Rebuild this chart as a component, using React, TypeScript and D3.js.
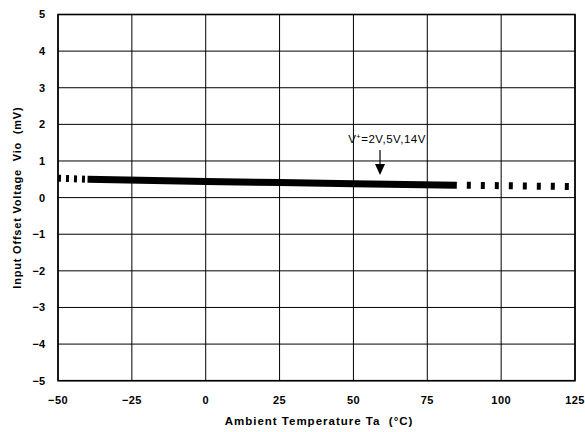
import React from "react";
import * as d3 from "d3";

const xTicks = [-50, -25, 0, 25, 50, 75, 100, 125];
const yTicks = [5, 4, 3, 2, 1, 0, -1, -2, -3, -4, -5];
// Measured line (solid) and extrapolated (dotted) portions
const solidTemp = [-40, 0, 25, 50, 85];
const solidVio = [0.5, 0.44, 0.41, 0.38, 0.34];
const dotLeftTemp = [-50, -40];
const dotLeftVio = [0.53, 0.5];
const dotRightTemp = [85, 125];
const dotRightVio = [0.34, 0.3];
const arrowTemp = 59;
const labelText = "V";
const labelRest = "=2V,5V,14V";

const W = 585;
const H = 432;
const M = { left: 58, right: 10, top: 14.5, bottom: 51.3 };

export default function App() {
  const x = d3.scaleLinear().domain([-50, 125]).range([M.left, W - M.right]);
  const y = d3.scaleLinear().domain([-5, 5]).range([H - M.bottom, M.top]);
  const line = d3
    .line<[number, number]>()
    .x((d) => x(d[0]))
    .y((d) => y(d[1]));
  const zip = (a: number[], b: number[]) => a.map((v, i) => [v, b[i]] as [number, number]);
  const font = "'Liberation Sans', Arial, sans-serif";
  const ax = x(arrowTemp);
  const ay = y(0.37) - 9;
  return (
    <svg
      width={W}
      height={H}
      style={{ position: "absolute", left: 0, top: 0, background: "#fff" }}
      fontFamily={font}
    >
      <rect width={W} height={H} fill="#fff" />
      {xTicks.map((t) => (
        <line key={"gx" + t} x1={x(t)} x2={x(t)} y1={y(5)} y2={y(-5)} stroke="#000" strokeWidth={1} />
      ))}
      {yTicks.map((t) => (
        <line key={"gy" + t} x1={x(-50)} x2={x(125)} y1={y(t)} y2={y(t)} stroke="#000" strokeWidth={1} />
      ))}
      <rect
        x={x(-50)}
        y={y(5)}
        width={x(125) - x(-50)}
        height={y(-5) - y(5)}
        fill="none"
        stroke="#000"
        strokeWidth={1.6}
      />
      {yTicks.map((t) => (
        <text
          key={"ty" + t}
          x={45}
          y={y(t)}
          dy="0.36em"
          textAnchor="end"
          fontSize={11}
          fontWeight="bold"
        >
          {t < 0 ? "\u2212" + Math.abs(t) : String(t)}
        </text>
      ))}
      {xTicks.map((t) => (
        <text
          key={"tx" + t}
          x={x(t)}
          y={404}
          textAnchor="middle"
          fontSize={11}
          fontWeight="bold"
          letterSpacing={0.4}
        >
          {t < 0 ? "\u2212" + Math.abs(t) : String(t)}
        </text>
      ))}
      <text x={319} y={425} textAnchor="middle" fontSize={11.5} fontWeight="bold" letterSpacing={1}>
        Ambient Temperature Ta{"\u00a0\u00a0"}(°C)
      </text>
      <text
        transform={`translate(21,${y(0)}) rotate(-90)`}
        textAnchor="middle"
        fontSize={11}
        fontWeight="bold"
        letterSpacing={0.8}
      >
        Input Offset Voltage{"\u00a0\u00a0"}Vio{"\u00a0\u00a0"}(mV)
      </text>
      <path d={line(zip(dotLeftTemp, dotLeftVio)) || ""} fill="none" stroke="#000" strokeWidth={7} strokeDasharray="3 5" />
      <path d={line(zip(solidTemp, solidVio)) || ""} fill="none" stroke="#000" strokeWidth={7} />
      <path
        d={line(zip(dotRightTemp, dotRightVio)) || ""}
        fill="none"
        stroke="#000"
        strokeWidth={7}
        strokeDasharray="4 10"
        strokeDashoffset={-10}
      />
      <line x1={ax} x2={ax} y1={ay - 25} y2={ay - 10} stroke="#000" strokeWidth={1.2} />
      <path d={`M${ax - 5},${ay - 11} L${ax + 5},${ay - 11} L${ax},${ay} Z`} fill="#000" />
      <text x={ax + 7} y={143} textAnchor="middle" fontSize={11.5} letterSpacing={0.5}>
        {labelText}
        <tspan fontSize={7.5} dy={-4}>+</tspan>
        <tspan dy={4}>{labelRest}</tspan>
      </text>
    </svg>
  );
}
